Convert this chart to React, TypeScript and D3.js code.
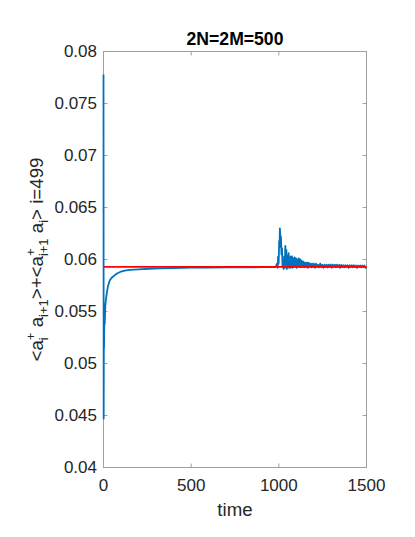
import React from "react";
import * as d3 from "d3";

// ---- data ----
const timeEarly = [0, 1, 2, 3, 5, 7, 10, 14, 18, 25, 36, 50, 65, 80, 95, 120, 150, 200, 260, 320, 400, 500, 600, 700, 800, 900, 975];
const valueEarly = [0.0778, 0.0447, 0.053, 0.0515, 0.0545, 0.0538, 0.0555, 0.0562, 0.0567, 0.0574, 0.058, 0.0583, 0.0585, 0.05868, 0.0588, 0.05892, 0.059, 0.05906, 0.05911, 0.05914, 0.05918, 0.05921, 0.05923, 0.05924, 0.05925, 0.05926, 0.05926];

const timeLate = [980, 985, 990, 993, 996, 999, 1002, 1004, 1006, 1009, 1012, 1015, 1018, 1021, 1024, 1027, 1031, 1034, 1037, 1040, 1043, 1046, 1050, 1053, 1056, 1059, 1062, 1065, 1069, 1072, 1075, 1078, 1082, 1086, 1090, 1094, 1098, 1102, 1106, 1110, 1114, 1118, 1122, 1126, 1130, 1135, 1140, 1145, 1150, 1155, 1160, 1165, 1170, 1175, 1180, 1185, 1190, 1195, 1200, 1206, 1212, 1218, 1224, 1230, 1236, 1242, 1248, 1254, 1260, 1266, 1272, 1278, 1284, 1290, 1296, 1302, 1308, 1314, 1320, 1326, 1332, 1338, 1344, 1350, 1356, 1362, 1368, 1374, 1380, 1386, 1392, 1398, 1404, 1410, 1416, 1422, 1428, 1434, 1440, 1446, 1452, 1458, 1464, 1470, 1476, 1482, 1488, 1494, 1500];
const valueLate = [0.05928, 0.0594, 0.0596, 0.0592, 0.0603, 0.0596, 0.0618, 0.0612, 0.063, 0.0621, 0.0622, 0.0605, 0.0611, 0.0594, 0.0599, 0.0591, 0.0603, 0.0592, 0.0613, 0.0595, 0.0609, 0.0591, 0.0603, 0.0594, 0.0606, 0.0592, 0.0602, 0.0592, 0.0603, 0.0593, 0.0603, 0.0592, 0.0601, 0.0593, 0.0602, 0.0593, 0.0601, 0.0592, 0.06, 0.0593, 0.0601, 0.0593, 0.06, 0.05925, 0.0599, 0.0593, 0.0598, 0.05925, 0.0597, 0.0593, 0.0597, 0.0592, 0.0597, 0.0593, 0.0596, 0.05925, 0.0596, 0.0593, 0.0596, 0.0592, 0.0596, 0.0593, 0.0595, 0.05925, 0.0596, 0.0593, 0.0595, 0.0592, 0.0595, 0.0593, 0.0595, 0.05925, 0.0595, 0.0593, 0.05952, 0.0592, 0.0595, 0.0593, 0.0595, 0.05925, 0.0595, 0.0593, 0.05948, 0.0592, 0.05948, 0.0593, 0.05945, 0.05925, 0.05945, 0.0593, 0.05945, 0.0592, 0.05945, 0.0593, 0.05945, 0.05925, 0.05945, 0.0593, 0.05942, 0.0592, 0.05942, 0.0593, 0.05942, 0.05925, 0.05942, 0.0593, 0.05942, 0.0592, 0.0593];

const refValue = 0.0593;
const refTime = [0, 1500];

const xTicks = [0, 500, 1000, 1500];
const yTicks = [0.04, 0.045, 0.05, 0.055, 0.06, 0.065, 0.07, 0.075, 0.08];
const yTickLabels = ["0.04", "0.045", "0.05", "0.055", "0.06", "0.065", "0.07", "0.075", "0.08"];

const titleText = "2N=2M=500";
const xLabel = "time";

export default function App() {
  const W = 415, H = 537;
  const left = 103.5, right = 366.5, top = 51.5, bottom = 467.5;
  const x = d3.scaleLinear().domain([0, 1500]).range([left, right]);
  const y = d3.scaleLinear().domain([0.04, 0.08]).range([bottom, top]);

  const times = [...timeEarly, ...timeLate];
  const vals = [...valueEarly, ...valueLate];
  const pts: [number, number][] = times.map((t, i) => [t, vals[i]]);
  const line = d3.line<[number, number]>().x(d => x(d[0])).y(d => y(d[1]));
  const refPts: [number, number][] = refTime.map(t => [t, refValue]);

  const font = "'Liberation Sans', Arial, Helvetica, sans-serif";
  const txt = "#262626";
  const axisCol = "#a0a0a0";
  const tickLen = 4;
  const cx = (left + right) / 2;
  const cy = (top + bottom) / 2;
  const sub = 13;

  return (
    <svg width={W} height={H} style={{ position: "absolute", left: 0, top: 0, background: "#fff" }} fontFamily={font}>
      <rect x={0} y={0} width={W} height={H} fill="#fff" />
      {/* box */}
      <rect x={left} y={top} width={right - left} height={bottom - top} fill="none" stroke={axisCol} strokeWidth={1} />
      {xTicks.map(t => (
        <g key={"xt" + t}>
          <line x1={x(t)} x2={x(t)} y1={bottom} y2={bottom - tickLen} stroke={axisCol} />
          <line x1={x(t)} x2={x(t)} y1={top} y2={top + tickLen} stroke={axisCol} />
          <text x={x(t)} y={491} textAnchor="middle" fontSize={17} fill={txt}>{t}</text>
        </g>
      ))}
      {yTicks.map((v, i) => (
        <g key={"yt" + i}>
          <line x1={left} x2={left + tickLen} y1={y(v)} y2={y(v)} stroke={axisCol} />
          <line x1={right} x2={right - tickLen} y1={y(v)} y2={y(v)} stroke={axisCol} />
          <text x={97} y={y(v)} dy="0.35em" textAnchor="end" fontSize={17} fill={txt}>{yTickLabels[i]}</text>
        </g>
      ))}
      {/* data */}
      <path d={line(pts) || ""} fill="none" stroke="#0072BD" strokeWidth={1.8} strokeLinejoin="round" />
      <path d={line(refPts) || ""} fill="none" stroke="#FF0000" strokeWidth={1.8} />
      <text x={cx} y={45} textAnchor="middle" fontSize={17.6} fontWeight="bold" fill="#000">{titleText}</text>
      <text x={cx} y={516} textAnchor="middle" fontSize={18.7} fill={txt}>{xLabel}</text>
      <text transform={`translate(43,${cy}) rotate(-90)`} textAnchor="middle" fontSize={18.7} fill={txt}>
        <tspan>{"<a"}</tspan>
        <tspan fontSize={sub} dy={-8}>+</tspan>
        <tspan fontSize={sub} dx={-7.6} dy={13}>i</tspan>
        <tspan dx={4.7} dy={-5}>{" a"}</tspan>
        <tspan fontSize={sub} dy={5}>i+1</tspan>
        <tspan dy={-5}>{">+<a"}</tspan>
        <tspan fontSize={sub} dy={-8}>+</tspan>
        <tspan fontSize={sub} dx={-7.6} dy={13}>i+1</tspan>
        <tspan dy={-5}>{" a"}</tspan>
        <tspan fontSize={sub} dy={5}>i</tspan>
        <tspan dy={-5}>{"> i=499"}</tspan>
      </text>
    </svg>
  );
}
